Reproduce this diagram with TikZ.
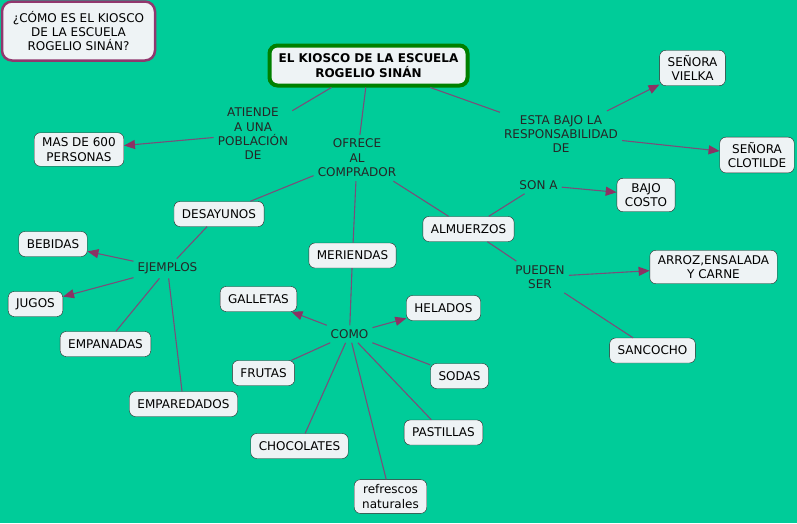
\documentclass[tikz,border=0pt]{standalone}
\usepackage{fontspec}
\setmainfont{DejaVu Sans}
\usetikzlibrary{arrows.meta}
\definecolor{cmbg}{RGB}{0,204,153}
\definecolor{cmfill}{RGB}{238,243,245}
\definecolor{cmline}{RGB}{122,78,122}
\definecolor{cmtip}{RGB}{140,50,100}
\definecolor{cmgreen}{RGB}{0,128,0}
\definecolor{cmpurple}{RGB}{145,55,110}
\newcommand\cmsize{\fontsize{12}{14.4}\selectfont}
\tikzset{
  cmbox/.style={draw=black!85, fill=cmfill, rounded corners=6pt, align=center, minimum height=25pt, inner xsep=8pt, inner ysep=5pt, font=\cmsize},
  cmroot/.style={draw=cmgreen, line width=4pt, fill=cmfill, rounded corners=8pt, align=center, minimum width=198pt, minimum height=40pt, font=\cmsize\bfseries},
  cmquest/.style={draw=cmpurple, line width=2.5pt, fill=cmfill, rounded corners=10pt, align=center, minimum width=153pt, minimum height=59pt, font=\cmsize},
  cmlabel/.style={align=center, inner sep=4pt, font=\cmsize, text=black!85},
  cmline/.style={draw=cmline, line width=1.1pt},
  cmarrow/.style={cmline, -{Triangle[length=11pt, width=9pt, color=cmtip, fill=cmtip]}}
}

\begin{document}
\begin{tikzpicture}[x=1pt, y=-1pt]
\fill[cmbg] (0,0) rectangle (797,523);
\useasboundingbox (0,0) rectangle (797,523);
% boxes
\node[cmquest] (quest) at (78.5,31) {¿CÓMO ES EL KIOSCO\\DE LA ESCUELA\\ROGELIO SINÁN?};
\node[cmroot] (root) at (368.5,65.5) {EL KIOSCO DE LA ESCUELA\\ROGELIO SINÁN};
\node[cmbox] (mas) at (79,149.5) {MAS DE 600\\PERSONAS};
\node[cmbox] (vielka) at (692.5,68) {SEÑORA\\VIELKA};
\node[cmbox] (clotilde) at (757,155) {SEÑORA\\CLOTILDE};
\node[cmbox] (desayunos) at (219,214) {DESAYUNOS};
\node[cmbox] (meriendas) at (352.5,255.5) {MERIENDAS};
\node[cmbox] (almuerzos) at (468.5,229) {ALMUERZOS};
\node[cmbox] (bajo) at (646,195) {BAJO\\COSTO};
\node[cmbox] (arroz) at (713.5,267) {ARROZ,ENSALADA\\Y CARNE};
\node[cmbox] (sancocho) at (652.5,350.5) {SANCOCHO};
\node[cmbox] (bebidas) at (53,244) {BEBIDAS};
\node[cmbox] (jugos) at (35.5,304) {JUGOS};
\node[cmbox] (empanadas) at (105.5,344) {EMPANADAS};
\node[cmbox] (emparedados) at (183.5,404) {EMPAREDADOS};
\node[cmbox] (galletas) at (258.5,299) {GALLETAS};
\node[cmbox] (helados) at (443.5,308) {HELADOS};
\node[cmbox] (frutas) at (263.5,373) {FRUTAS};
\node[cmbox] (sodas) at (459.5,376) {SODAS};
\node[cmbox] (pastillas) at (443.5,432.5) {PASTILLAS};
\node[cmbox] (chocolates) at (299.5,446) {CHOCOLATES};
\node[cmbox] (refrescos) at (390.5,496.5) {refrescos\\naturales};
% linking phrases
\node[cmlabel] (atiende) at (253,134) {ATIENDE\\A UNA\\POBLACIÓN\\DE};
\node[cmlabel] (ofrece) at (357,158) {OFRECE\\AL\\COMPRADOR};
\node[cmlabel] (esta) at (561,134) {ESTA BAJO LA\\RESPONSABILIDAD\\DE};
\node[cmlabel] (ejemplos) at (167.5,268.5) {EJEMPLOS};
\node[cmlabel] (como) at (349.5,334) {COMO};
\node[cmlabel] (sona) at (538.5,185) {SON A};
\node[cmlabel] (pueden) at (540,277) {PUEDEN\\SER};
% connectors
\draw[cmline] (root) -- (atiende);
\draw[cmarrow] (atiende) -- (mas);
\draw[cmline] (root) -- (ofrece);
\draw[cmline] (root) -- (esta);
\draw[cmarrow] (esta) -- (vielka);
\draw[cmarrow] (esta) -- (clotilde);
\draw[cmline] (ofrece) -- (desayunos);
\draw[cmline] (ofrece) -- (meriendas);
\draw[cmline] (ofrece) -- (almuerzos);
\draw[cmline] (desayunos) -- (ejemplos);
\draw[cmarrow] (ejemplos) -- (bebidas);
\draw[cmarrow] (ejemplos) -- (jugos);
\draw[cmline] (ejemplos) -- (empanadas);
\draw[cmline] (ejemplos) -- (emparedados);
\draw[cmline] (meriendas) -- (como);
\draw[cmarrow] (como) -- (galletas);
\draw[cmarrow] (como) -- (helados);
\draw[cmline] (como) -- (frutas);
\draw[cmline] (como) -- (sodas);
\draw[cmline] (como) -- (pastillas);
\draw[cmline] (como) -- (chocolates);
\draw[cmline] (como) -- (refrescos);
\draw[cmline] (almuerzos) -- (sona);
\draw[cmarrow] (sona) -- (bajo);
\draw[cmline] (almuerzos) -- (pueden);
\draw[cmarrow] (pueden) -- (arroz);
\draw[cmline] (pueden) -- (sancocho);
\end{tikzpicture}
\end{document}
